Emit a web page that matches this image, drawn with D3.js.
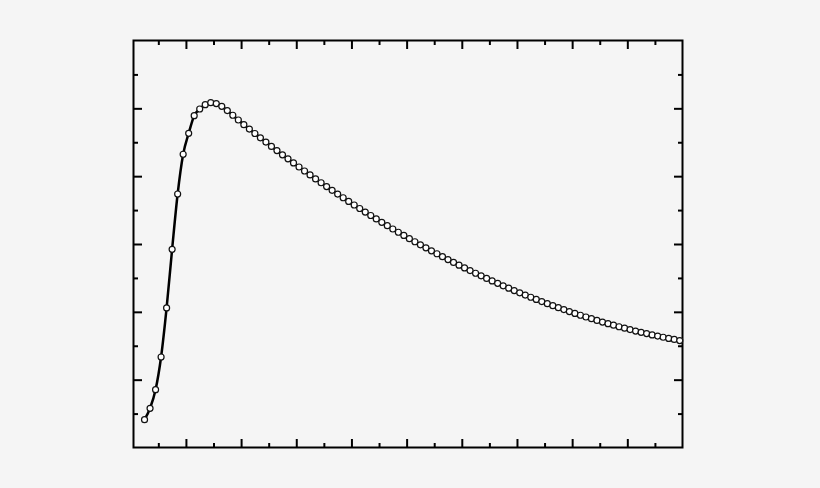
<!DOCTYPE html>
<html>
<head>
<meta charset="utf-8">
<script src="https://cdn.jsdelivr.net/npm/d3@7"></script>
<style>
  html, body { margin: 0; padding: 0; background: #f5f5f5; }
  svg { display: block; }
</style>
</head>
<body>
<svg id="chart" width="820" height="488"></svg>
<script>
// x positions (sample index -> x value), step 0.1 starting at 0.25
const xStart = 0.25;
const xStep = 0.1;
// y values (axis units 0..60)
const yValues = [
  4.10, 5.78, 8.52, 13.34, 20.57, 29.22, 37.37, 43.23, 46.32, 48.92,
  49.90, 50.54, 50.83, 50.70, 50.29, 49.67, 48.98, 48.28, 47.59, 46.94,
  46.29, 45.65, 45.02, 44.39, 43.77, 43.15, 42.55, 41.95, 41.35, 40.76,
  40.18, 39.60, 39.03, 38.47, 37.91, 37.36, 36.82, 36.28, 35.75, 35.23,
  34.71, 34.20, 33.69, 33.19, 32.70, 32.21, 31.73, 31.26, 30.79, 30.33,
  29.88, 29.43, 28.99, 28.56, 28.13, 27.71, 27.29, 26.88, 26.48, 26.08,
  25.69, 25.31, 24.93, 24.56, 24.20, 23.84, 23.49, 23.14, 22.80, 22.47,
  22.15, 21.83, 21.51, 21.21, 20.91, 20.61, 20.33, 20.04, 19.77, 19.50,
  19.24, 18.99, 18.74, 18.49, 18.26, 18.03, 17.80, 17.59, 17.38, 17.17,
  16.98, 16.79, 16.60, 16.42, 16.25, 16.08, 15.93, 15.77
];
const xDomain = [0.05, 10];
const yDomain = [0, 60];
const xMajorTicks = [1, 2, 3, 4, 5, 6, 7, 8, 9];
const xMinorTicks = [0.5, 1.5, 2.5, 3.5, 4.5, 5.5, 6.5, 7.5, 8.5, 9.5];
const yMajorTicks = [10, 20, 30, 40, 50];
const yMinorTicks = [5, 15, 25, 35, 45, 55];

const data = yValues.map((v, i) => ({ x: +(xStart + i * xStep).toFixed(2), y: v }));

const svg = d3.select("#chart");
const plotL = 133.5, plotR = 682.5, plotT = 40.5, plotB = 447.5;
const x = d3.scaleLinear().domain(xDomain).range([plotL, plotR]);
const y = d3.scaleLinear().domain(yDomain).range([plotB, plotT]);

const majorLen = 8.5, minorLen = 4.5;

function addAxis(axisGen, transform) {
  const g = svg.append("g").attr("transform", transform).call(axisGen);
  g.select(".domain").remove();
  g.selectAll("text").remove();
  g.selectAll("line").attr("stroke", "#000").attr("stroke-width", 2);
  return g;
}

// bottom
addAxis(d3.axisBottom(x).tickValues(xMajorTicks).tickSize(-majorLen).tickFormat(""), `translate(0,${plotB})`);
addAxis(d3.axisBottom(x).tickValues(xMinorTicks).tickSize(-minorLen).tickFormat(""), `translate(0,${plotB})`);
// top
addAxis(d3.axisTop(x).tickValues(xMajorTicks).tickSize(-majorLen).tickFormat(""), `translate(0,${plotT})`);
addAxis(d3.axisTop(x).tickValues(xMinorTicks).tickSize(-minorLen).tickFormat(""), `translate(0,${plotT})`);
// left
addAxis(d3.axisLeft(y).tickValues(yMajorTicks).tickSize(-majorLen).tickFormat(""), `translate(${plotL},0)`);
addAxis(d3.axisLeft(y).tickValues(yMinorTicks).tickSize(-minorLen).tickFormat(""), `translate(${plotL},0)`);
// right
addAxis(d3.axisRight(y).tickValues(yMajorTicks).tickSize(-majorLen).tickFormat(""), `translate(${plotR},0)`);
addAxis(d3.axisRight(y).tickValues(yMinorTicks).tickSize(-minorLen).tickFormat(""), `translate(${plotR},0)`);

// frame
svg.append("rect")
  .attr("x", plotL).attr("y", plotT)
  .attr("width", plotR - plotL).attr("height", plotB - plotT)
  .attr("fill", "none").attr("stroke", "#000").attr("stroke-width", 2);

// line
const line = d3.line().x(d => x(d.x)).y(d => y(d.y)).curve(d3.curveMonotoneX);
svg.append("path").datum(data)
  .attr("d", line)
  .attr("fill", "none").attr("stroke", "#000").attr("stroke-width", 2.5)
  .attr("stroke-linejoin", "round");

// markers
svg.append("g").selectAll("circle").data(data).join("circle")
  .attr("cx", d => x(d.x)).attr("cy", d => y(d.y))
  .attr("r", 3)
  .attr("fill", "#fff").attr("stroke", "#111").attr("stroke-width", 1.2);
</script>
</body>
</html>
